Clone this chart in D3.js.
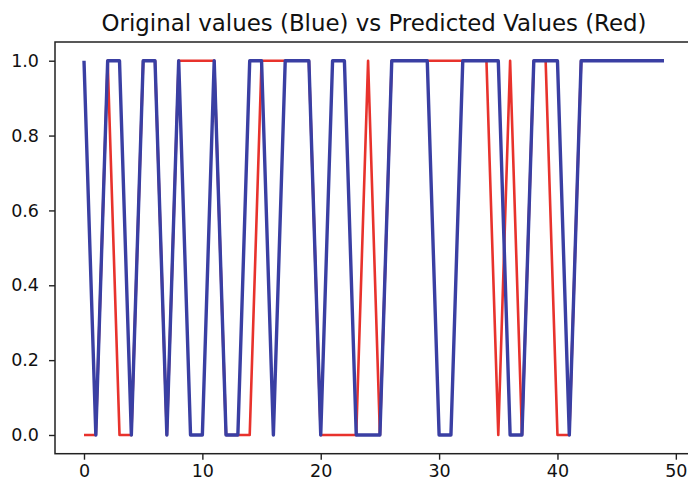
<!DOCTYPE html>
<html>
<head>
<meta charset="utf-8">
<script src="https://cdn.jsdelivr.net/npm/d3@7/dist/d3.min.js"></script>
<style>
  html, body { margin: 0; padding: 0; background: #fff; overflow: hidden; }
  svg { display: block; }
</style>
</head>
<body>
<svg id="chart" width="688" height="486"></svg>
<script>
const titleText = "Original values (Blue) vs Predicted Values (Red)";
const xTicks = [0, 10, 20, 30, 40, 50];
const yTicks = [0.0, 0.2, 0.4, 0.6, 0.8, 1.0];
const originalValues = [1,0,1,1,0,1,1,0,1,0,0,1,0,0,1,1,0,1,1,1,0,1,1,0,0,0,1,1,1,1,0,0,1,1,1,1,0,0,1,1,1,0,1,1,1,1,1,1,1,1];
const predictedValues = [0,0,1,0,0,1,1,0,1,1,1,1,0,0,0,1,1,1,1,1,0,0,0,0,1,0,1,1,1,1,1,1,1,1,1,0,1,0,1,1,0,0,1,1,1,1,1,1,1,1];

(function () {
const svg = d3.select("#chart");
const mLeft = 55, mRight = 693, mTop = 42, mBottom = 453.7;
const n = originalValues.length;
const xm = (n - 1) * 0.05;
const x = d3.scaleLinear().domain([-xm, n - 1 + xm]).range([mLeft, mRight]);
const y = d3.scaleLinear().domain([-0.05, 1.05]).range([mBottom, mTop]);

const line = d3.line().x((d, i) => x(i)).y(d => y(d));

svg.append("path").datum(predictedValues)
  .attr("d", line).attr("fill", "none")
  .attr("stroke", "#e8322c").attr("stroke-width", 2.6)
  .attr("stroke-linejoin", "round");
svg.append("path").datum(originalValues)
  .attr("d", line).attr("fill", "none")
  .attr("stroke", "#3a3fa3").attr("stroke-width", 3.4)
  .attr("stroke-linejoin", "round");

const fontFam = "'DejaVu Sans', sans-serif";

const xAxis = svg.append("g").attr("transform", `translate(0,${mBottom})`)
  .call(d3.axisBottom(x).tickValues(xTicks).tickFormat(d3.format("d")).tickSize(6).tickPadding(5));
const yAxis = svg.append("g").attr("transform", `translate(${mLeft},0)`)
  .call(d3.axisLeft(y).tickValues(yTicks).tickFormat(d3.format(".1f")).tickSize(6).tickPadding(10));
[xAxis, yAxis].forEach(g => {
  g.selectAll("text").attr("font-family", fontFam).attr("font-size", 17.5).attr("fill", "#111");
  g.selectAll("line").attr("stroke", "#222").attr("stroke-width", 1.4);
  g.select(".domain").remove();
});

svg.append("rect").attr("x", mLeft).attr("y", mTop)
  .attr("width", mRight - mLeft).attr("height", mBottom - mTop)
  .attr("fill", "none").attr("stroke", "#222").attr("stroke-width", 1.5);

svg.append("text").attr("x", (mLeft + mRight) / 2).attr("y", 30.5)
  .attr("text-anchor", "middle").attr("font-family", fontFam)
  .attr("font-size", 23.5).attr("fill", "#111")
  .attr("textLength", 545).attr("lengthAdjust", "spacingAndGlyphs")
  .text(titleText);
})();
</script>
</body>
</html>
